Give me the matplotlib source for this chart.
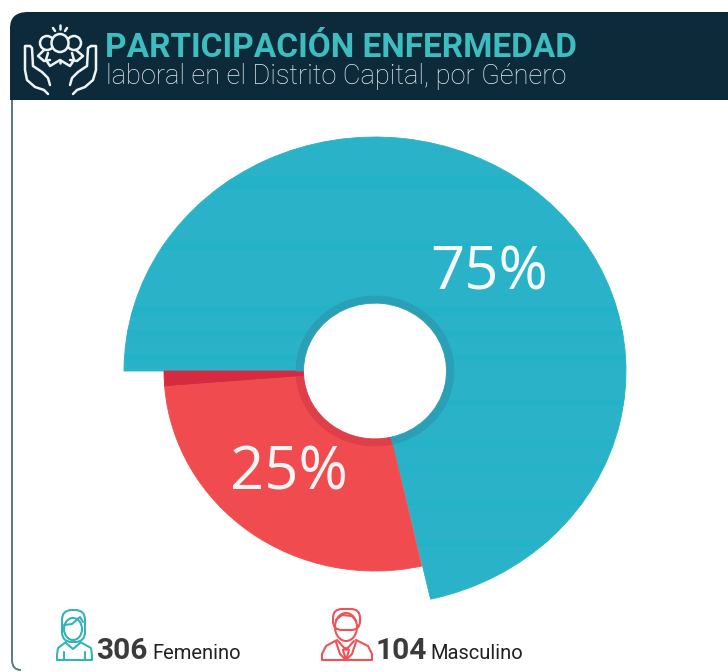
#!/usr/bin/env python3

import matplotlib
matplotlib.use("Agg")
import matplotlib.pyplot as plt
from matplotlib.patches import Ellipse, PathPatch, FancyBboxPatch
from matplotlib.path import Path

W, H = 728, 672

title = "PARTICIPACIÓN ENFERMEDAD"
subtitle = "laboral en el Distrito Capital, por Género"
genders = ["Femenino", "Masculino"]
counts = [306, 104]
shares = ["75%", "25%"]
# slice sweeps as drawn in the picture (degrees): shadow strip, red, teal
sweeps = [4.5, 98.3, 257.2]

navy = "#0d2a3b"
teal = "#2ab3c8"
teal_band = "#24b2c9"
teal_ring = "#2a9fb6"
red = "#f04b4f"
red_dark = "#d62a40"
red_ring = "#de3f48"
title_teal = "#3dbdbf"
icon_teal = "#35b3b9"
icon_red = "#ee5257"

cx, cy = 375, 371
hole_rx = 71.5
ring_rx, ring_ry = 79, 75

# horizontal banding visible in the teal slice
bands = [(176, 190), (243, 250), (306, 316), (330, 337), (354, 361),
         (400, 406), (440, 447), (464, 471), (500, 505), (540, 546)]

fig = plt.figure(figsize=(W / 100, H / 100), dpi=100, facecolor="white")


def pie_layer(rx, ry, colors, inner):
    ax = fig.add_axes([(cx - rx) / W, 1 - (cy + ry) / H, 2 * rx / W, 2 * ry / H])
    wedges, _ = ax.pie(sweeps, colors=colors, startangle=180, radius=1,
                       wedgeprops={"width": 1 - inner / rx})
    # thin edge in the slice colour closes the seams between the layers
    for wedge, color in zip(wedges, colors):
        wedge.set_edgecolor(color)
        wedge.set_linewidth(0.6)
    ax.set_aspect("auto")
    ax.set_xlim(-1, 1)
    ax.set_ylim(-1, 1)
    ax.patch.set_alpha(0)
    return wedges


teal_wedges = pie_layer(251, 234, ["none", "none", teal], ring_rx - 1)
pie_layer(211, 200, [red_dark, red, "none"], ring_rx - 1)
ring_wedges = pie_layer(ring_rx, ring_ry, [red_dark, red_ring, teal_ring], hole_rx)
# ring goes above the bands of the overlay axes
ring_wedges[0].axes.set_zorder(1)

ax = fig.add_axes([0, 0, 1, 1])
ax.set_xlim(0, W)
ax.set_ylim(H, 0)
ax.axis("off")
ax.patch.set_alpha(0)

for y0, y1 in bands:
    band = ax.axhspan(y0, y1, color=teal_band, lw=0, zorder=1)
    band.set_clip_path(teal_wedges[2])

# header bar
header = Path([(10, 100), (10, 28), (10, 12), (28, 12), (728, 12), (728, 100), (10, 100)],
              [Path.MOVETO, Path.LINETO, Path.CURVE3, Path.CURVE3, Path.LINETO, Path.LINETO, Path.CLOSEPOLY])
ax.add_patch(PathPatch(header, fc=navy, ec="none", zorder=2))

# panel border, left side only
border = Path([(12, 100), (12, 660), (12, 670), (21, 670)],
              [Path.MOVETO, Path.LINETO, Path.CURVE3, Path.CURVE3])
ax.add_patch(PathPatch(border, fc="none", ec="#5d7883", lw=1.4, zorder=2))

ax.text(105, 57, title, family="Roboto", weight="bold", fontsize=24, color=title_teal,
        va="baseline", ha="left", zorder=3)
ax.text(106, 84, subtitle, family="Roboto", weight="light", fontsize=19.6, color="#e6edf0",
        va="baseline", ha="left", zorder=3)

ax.text(489, 290, shares[0], family="Open Sans", weight="normal", fontsize=43, color="#f6fbfc",
        va="baseline", ha="center", zorder=3)
ax.text(289, 490, shares[1], family="Open Sans", weight="normal", fontsize=43, color="#fdf4f4",
        va="baseline", ha="center", zorder=3)

ax.text(96, 659, str(counts[0]), family="Roboto", weight="bold", fontsize=21.5, color="#3b3b3d",
        va="baseline", ha="left", zorder=3)
ax.text(152, 659, genders[0], family="Roboto", fontsize=14.5, color="#222224",
        va="baseline", ha="left", zorder=3)
ax.text(375, 659, str(counts[1]), family="Roboto", weight="bold", fontsize=21.5, color="#3b3b3d",
        va="baseline", ha="left", zorder=3)
ax.text(430, 659, genders[1], family="Roboto", fontsize=14.5, color="#222224",
        va="baseline", ha="left", zorder=3)


def line(xs, ys, color, lw=1.5):
    ax.plot(xs, ys, color=color, lw=lw, solid_capstyle="round", solid_joinstyle="round", zorder=4)


def circle(x, y, rx, ry, color, lw=1.5, fc="none"):
    ax.add_patch(Ellipse((x, y), 2 * rx, 2 * ry, fc=fc, ec=color, lw=lw, zorder=4))


def round_box(x0, y0, x1, y1, r, color, lw=1.5):
    ax.add_patch(FancyBboxPatch((x0 + r, y0 + r), x1 - x0 - 2 * r, y1 - y0 - 2 * r,
                                boxstyle=f"round,pad={r},rounding_size={r}",
                                fc="white", ec=color, lw=lw, zorder=4))


# header icon: hands holding three people
ic = "#eef3f4"
line([53, 55], [28, 31], ic, 1.8)
line([60, 60], [25, 29], ic, 1.8)
line([67, 65], [28, 31], ic, 1.8)
circle(47, 43, 7, 7, ic, 1.8)
circle(74, 43, 7, 7, ic, 1.8)
circle(60, 43, 8.5, 9, ic, 1.8, fc=navy)
line([44, 38, 44, 50], [50, 56, 61, 60], ic, 1.8)
line([76, 83, 77, 70], [50, 56, 61, 60], ic, 1.8)
line([48, 46, 50, 60, 70, 74, 72], [53, 60, 66, 60, 66, 60, 53], ic, 1.8)
line([60, 60], [60, 63], ic, 1.8)
line([30, 25, 25, 27, 35, 44, 48], [46, 46, 70, 80, 87, 90, 94], ic, 1.8)
line([30, 32, 33, 42, 48, 50], [46, 48, 66, 72, 78, 85], ic, 1.8)
line([91, 96, 96, 93, 85, 77, 73], [46, 46, 70, 80, 87, 90, 94], ic, 1.8)
line([91, 88, 87, 78, 72, 70], [46, 48, 66, 72, 78, 85], ic, 1.8)

# woman icon
line([66, 58, 57, 57, 92, 92, 91, 80], [642, 648, 655, 660, 660, 655, 648, 642], icon_teal)
round_box(62, 610, 85, 642, 10, icon_teal)
circle(73, 629, 9, 11, icon_teal)
line([64, 72, 80, 83], [625, 624, 617, 622], icon_teal)
line([66, 73, 80], [643, 649, 643], icon_teal)
line([64, 64], [652, 660], icon_teal)
line([85, 85], [652, 660], icon_teal)

# man icon
line([337, 326, 322, 322, 372, 372, 368, 356], [640, 646, 654, 660, 660, 654, 646, 640], icon_red)
round_box(333, 609, 360, 630, 9, icon_red)
circle(346, 627, 11, 14, icon_red)
line([336, 342, 352, 356], [620, 615, 616, 621], icon_red)
line([338, 346, 354], [641, 650, 641], icon_red)
line([343, 346, 349, 346, 343], [650, 660, 650, 648, 650], icon_red)
line([336, 340, 346], [642, 654, 660], icon_red)
line([356, 352, 346], [642, 654, 660], icon_red)

fig.savefig("out.png", dpi=100, facecolor="white")
